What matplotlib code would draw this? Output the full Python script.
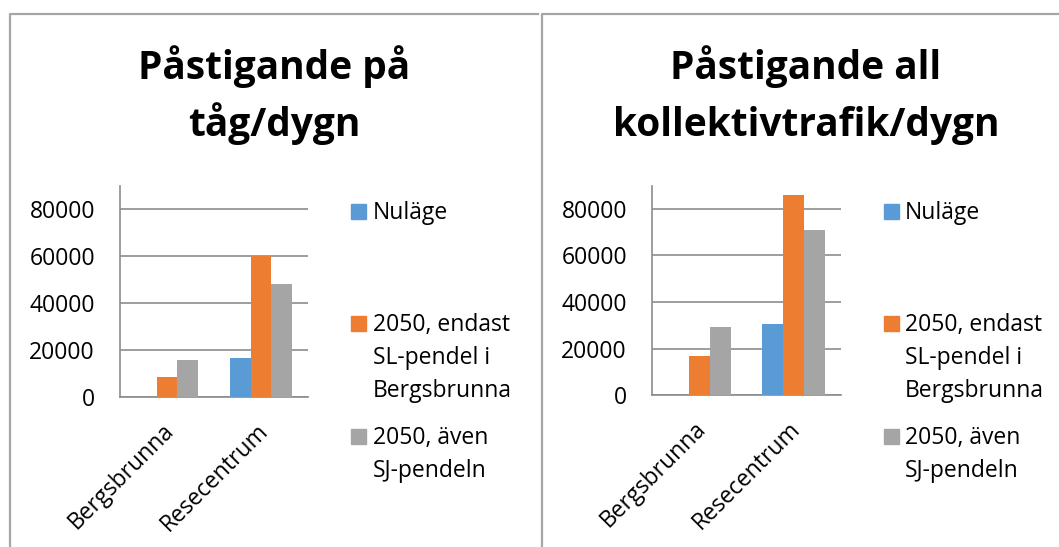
import matplotlib.pyplot as plt
import matplotlib.transforms as mtransforms
from matplotlib.lines import Line2D
from matplotlib.patches import Rectangle
import numpy as np

plt.rcParams['font.family'] = ['Open Sans', 'DejaVu Sans']

# data
stations = ['Bergsbrunna', 'Resecentrum']
series = ['Nuläge', '2050, endast\nSL-pendel i\nBergsbrunna', '2050, även\nSJ-pendeln']
colors = ['#5B9BD5', '#ED7D31', '#A5A5A5']

tag_nulage = [0, 16600]
tag_endast = [8500, 60000]
tag_aven = [15700, 48000]

all_nulage = [0, 30500]
all_endast = [16800, 86000]
all_aven = [29200, 71000]

title_tag = ['Påstigande på', 'tåg/dygn']
title_all = ['Påstigande all', 'kollektivtrafik/dygn']
yticks = [0, 20000, 40000, 60000, 80000]

W, H = 1059, 547
fig = plt.figure(figsize=(W / 100, H / 100), dpi=100)
FS = 16.5


def fx(x):
    return x / W


def fy(y):
    return 1 - y / H


def panel(x0, x1, title, values, ax_box, leg_x):
    # frame around each chart
    fig.add_artist(Line2D([fx(x0), fx(x0), fx(x1)], [fy(H + 5), fy(14), fy(14)],
                          transform=fig.transFigure, color='#a6a6a6', lw=1.6))
    # two-line bold title
    for line, yb in zip(title, [79.5, 136]):
        fig.text(fx(leg_x[2]), fy(yb), line, ha='center', va='baseline',
                 fontsize=28, fontweight='bold', color='black')

    left, right, base, top = ax_box
    ax = fig.add_axes([fx(left), fy(base), fx(right - left), (base - top) / H])
    x = np.arange(len(stations))
    w = 1 / 4.5
    for i, (vals, c) in enumerate(zip(values, colors)):
        ax.bar(x + (i - 1) * w, vals, w, color=c, zorder=3)
    ax.set_xlim(-0.5, 1.5)
    ax.set_ylim(0, 90000)
    ax.set_yticks(yticks)
    ax.set_yticklabels([str(v) for v in yticks], fontsize=FS)
    ax.yaxis.grid(True, color='#8c8c8c', lw=1.2, zorder=0)
    ax.set_xticks(x)
    ax.set_xticklabels([])
    # rotated category names, nudged a little left of the tick
    off = mtransforms.ScaledTranslation(-5 / 100, -22 / 100, fig.dpi_scale_trans)
    trans = mtransforms.blended_transform_factory(ax.transData, ax.transAxes) + off
    for xi, name in zip(x, stations):
        ax.text(xi, 0, name, transform=trans, rotation=45, ha='right', va='top',
                rotation_mode='anchor', fontsize=FS)
    ax.tick_params(axis='both', length=0)
    ax.tick_params(axis='y', pad=18)
    for s in ['top', 'right']:
        ax.spines[s].set_visible(False)
    for s in ['left', 'bottom']:
        ax.spines[s].set_color('#8c8c8c')
        ax.spines[s].set_linewidth(1.2)

    # legend, one text per line
    sq_x, tx = leg_x[0], leg_x[1]
    for name, c, yb in zip(series, colors, [219, 331, 444]):
        fig.patches.append(Rectangle((fx(sq_x), fy(yb)), 15 / W, 15 / H,
                                     transform=fig.transFigure, color=c))
        for k, line in enumerate(name.split('\n')):
            fig.text(fx(tx), fy(yb + 33 * k), line, ha='left', va='baseline',
                     fontsize=FS)
    return ax


panel(10, 538, title_tag, [tag_nulage, tag_endast, tag_aven],
      (120, 308, 397, 185.5), (351, 373, 274))
panel(542, W + 5, title_all, [all_nulage, all_endast, all_aven],
      (652, 841, 395, 185.75), (884, 905, 806))

plt.savefig('out.png', dpi=100)
